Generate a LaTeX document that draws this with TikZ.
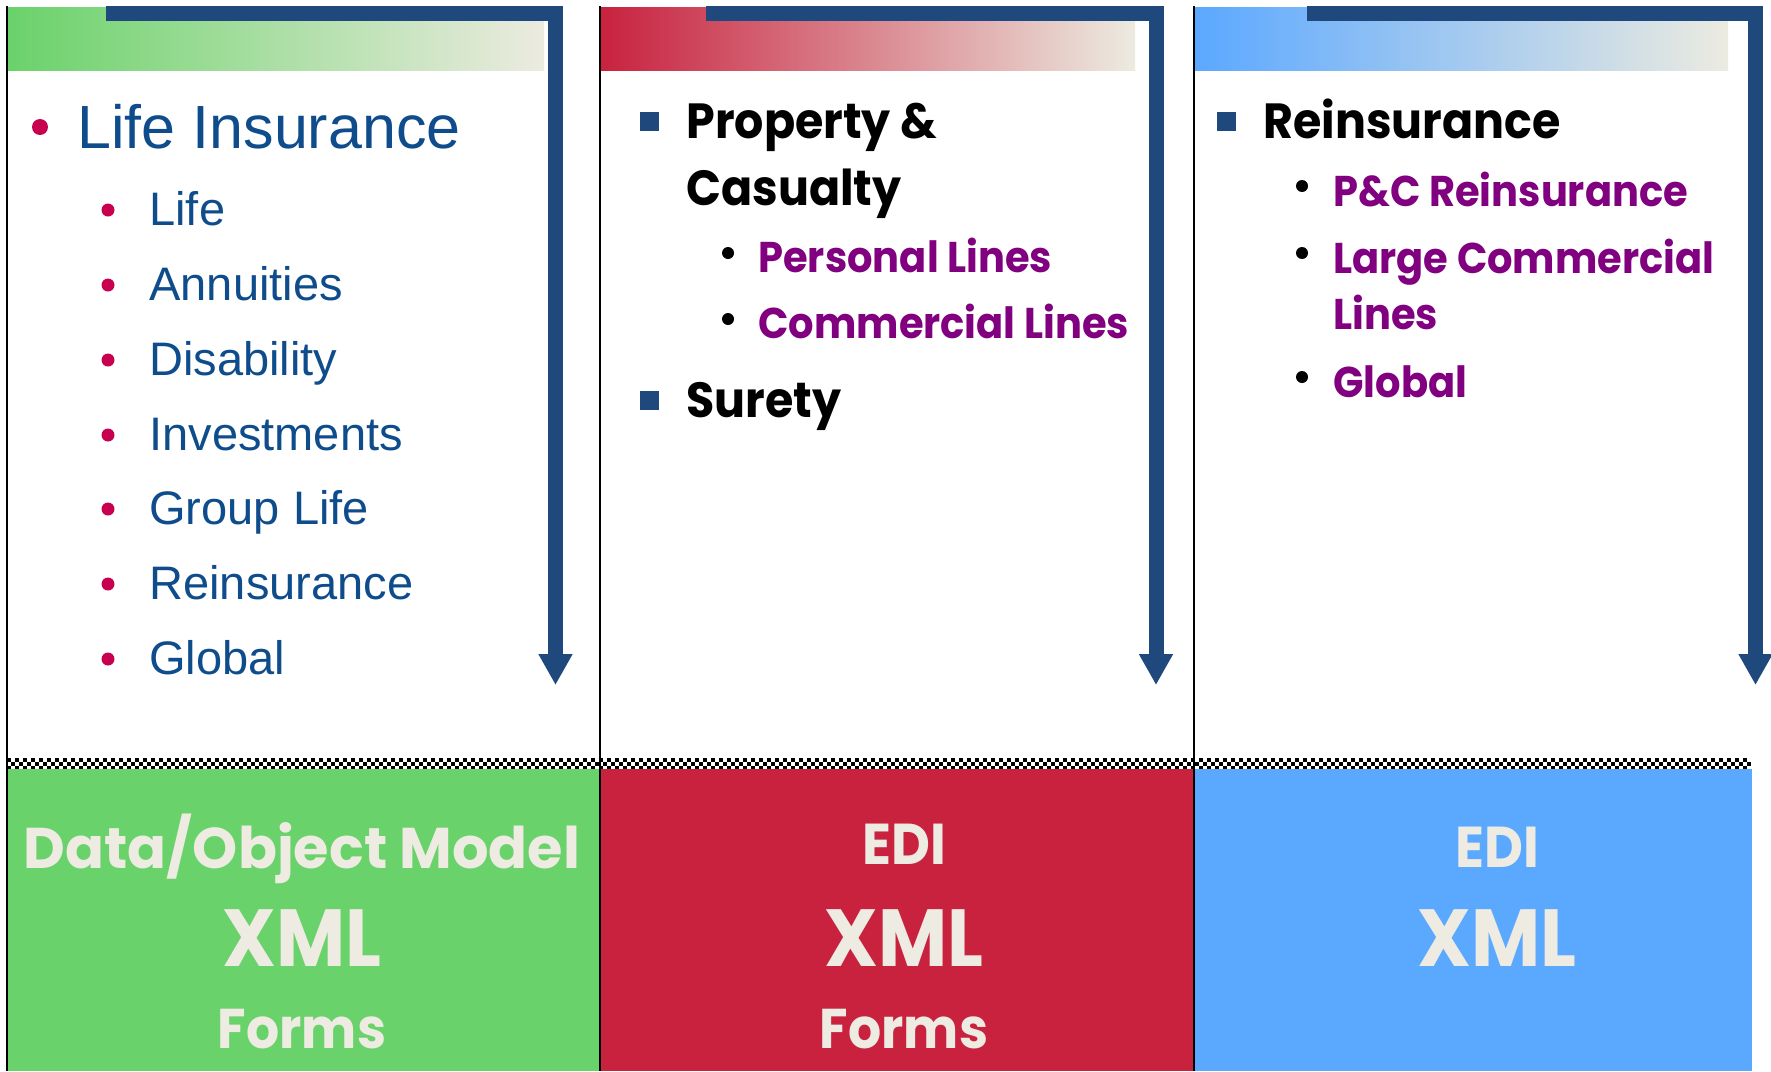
\documentclass[tikz,border=0pt]{standalone}
\usepackage{fontspec}
\setmainfont{Liberation Sans}
\newfontfamily\gothic[FakeStretch=0.93]{Poppins}
\newfontfamily\gothicw{Poppins}
\usetikzlibrary{positioning,arrows.meta}
\definecolor{barblue}{RGB}{31,73,125}
\definecolor{lifeblue}{RGB}{14,76,140}
\definecolor{dotred}{RGB}{200,0,80}
\definecolor{plum}{RGB}{128,0,128}
\definecolor{hdgreen}{RGB}{106,210,106}
\definecolor{hdred}{RGB}{200,34,63}
\definecolor{hdblue}{RGB}{91,168,255}
\definecolor{cream}{RGB}{236,235,224}
\definecolor{paper}{RGB}{238,235,226}

\begin{document}
\begin{tikzpicture}[x=0.5pt,y=-0.5pt,
bar/.style={draw=barblue, line width=7.5pt, -{Triangle[width=16pt,length=15.5pt]}},
rule/.style={draw=black, line width=1pt},
head/.style={anchor=base west, inner sep=0pt, text=lifeblue, font=\fontsize{30.5}{36}\selectfont},
item/.style={anchor=base west, inner sep=0pt, text=lifeblue, font=\fontsize{23.5}{28}\selectfont},
topic/.style={anchor=base west, inner sep=0pt, text=black, font=\gothic\bfseries\fontsize{24.7}{30}\selectfont},
sub/.style={anchor=base west, inner sep=0pt, text=plum, font=\gothic\bfseries\fontsize{21.5}{26}\selectfont},
dot/.style={circle, fill=dotred, inner sep=0pt, minimum size=6.5pt},
bdot/.style={circle, fill=black, inner sep=0pt, minimum size=6pt},
sq/.style={rectangle, fill=barblue, inner sep=0pt, minimum size=9.5pt},
tagtext/.style={anchor=base, inner sep=0pt, text=paper, font=\gothic\bfseries\fontsize{28}{34}\selectfont},
xmltext/.style={anchor=base, inner sep=0pt, text=paper, font=\gothic\bfseries\fontsize{40.5}{48}\selectfont}
]
\fill[white] (0,0) rectangle (1771,1071);
\useasboundingbox (0,0) rectangle (1771,1071);

\shade[left color=hdgreen, right color=cream] (8,7) rectangle (544,70);
\shade[left color=hdred, right color=cream] (601,7) rectangle (1135,70);
\shade[left color=hdblue, right color=cream] (1195,7) rectangle (1728,70);

\coordinate (a1) at (106,13);
\coordinate (e1) at (555.5,685);
\coordinate (a2) at (706,13);
\coordinate (e2) at (1156,685);
\coordinate (a3) at (1307,13);
\coordinate (e3) at (1755.5,685);
\draw[bar] (a1) -| (e1);
\draw[bar] (a2) -| (e2);
\draw[bar] (a3) -| (e3);

\fill[hdgreen] (7,769) rectangle (600,1071);
\fill[hdred] (600,769) rectangle (1194,1071);
\fill[hdblue] (1194,769) rectangle (1752,1071);
\fill[white] (7,758) rectangle (1752,769);
\foreach \i in {0,2,...,434}{
  \fill ({7+4*\i},758) rectangle ++(4,4);
  \fill ({11+4*\i},762) rectangle ++(4,4);
  \fill ({7+4*\i},766) rectangle ++(4,3);
}

\draw[rule] (7,6) -- (7,1071);
\draw[rule] (600,6) -- (600,1071);
\draw[rule] (1194,6) -- (1194,1071);

\node[dot, minimum size=8pt] (d0) at (40,127) {};
\node[head] (LI) at (77,148) {Life Insurance};
\node[dot] (d1) at (108,210) {};
\node[item] (s1) at (149,225) {Life};
\node[dot] (d2) at (108,285) {};
\node[item] (s2) at (149,300) {Annuities};
\node[dot] (d3) at (108,360) {};
\node[item] (s3) at (149,375) {Disability};
\node[dot] (d4) at (108,435) {};
\node[item] (s4) at (149,450) {Investments};
\node[dot] (d5) at (108,509) {};
\node[item] (s5) at (149,524) {Group Life};
\node[dot] (d6) at (108,584) {};
\node[item] (s6) at (149,599) {Reinsurance};
\node[dot] (d7) at (108,659) {};
\node[item] (s7) at (149,674) {Global};

\node[sq] (q1) at (649,121) {};
\node[topic] (PC) at (686,138) {Property \&};
\node[topic] (CA) at (686,205) {Casualty};
\node[bdot] (c1) at (728,253) {};
\node[sub] (p1) at (758,272) {Personal Lines};
\node[bdot] (c2) at (728,319) {};
\node[sub] (p2) at (758,338) {Commercial Lines};
\node[sq] (q2) at (649,400) {};
\node[topic] (SU) at (686,417) {Surety};

\node[sq] (q3) at (1226,121) {};
\node[topic] (RE) at (1263,138) {Reinsurance};
\node[bdot] (c3) at (1302,186) {};
\node[sub] (r1) at (1333,206) {P\&C Reinsurance};
\node[bdot] (c4) at (1302,253) {};
\node[sub] (r2) at (1333,273) {Large Commercial};
\node[sub] (r3) at (1333,329) {Lines};
\node[bdot] (c5) at (1302,377) {};
\node[sub] (r4) at (1333,397) {Global};

\node[tagtext, font=\gothicw\bfseries\fontsize{28.7}{34}\selectfont] (m1) at (302,868) {Data/Object Model};
\node[xmltext] (x1) at (302,966) {XML};
\node[tagtext] (f1) at (302,1048) {Forms};
\node[tagtext, font=\gothic\bfseries\fontsize{28.8}{34}\selectfont] (m2) at (904,864) {EDI};
\node[xmltext] (x2) at (904,966) {XML};
\node[tagtext] (f2) at (904,1048) {Forms};
\node[tagtext, font=\gothic\bfseries\fontsize{28.8}{34}\selectfont] (m3) at (1497,867) {EDI};
\node[xmltext] (x3) at (1497,966) {XML};
\end{tikzpicture}
\end{document}
